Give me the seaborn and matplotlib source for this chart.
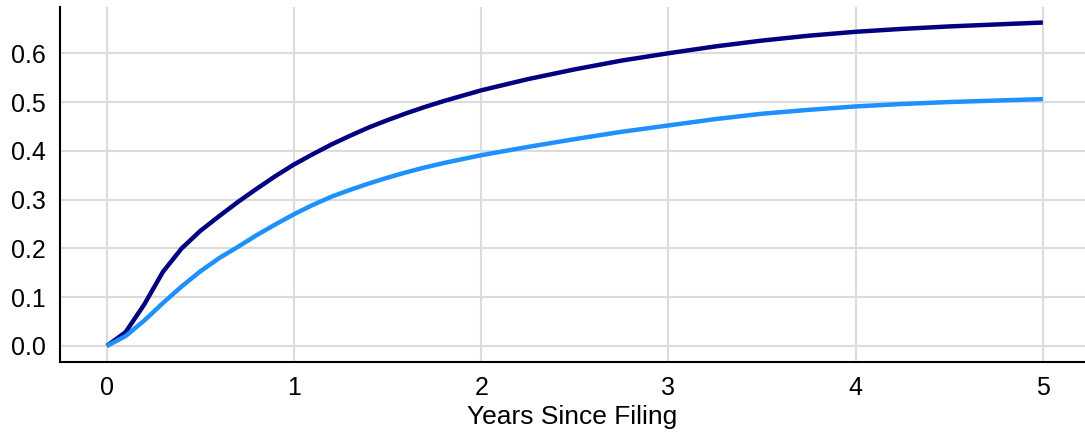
import pandas as pd
import numpy as np
import matplotlib.pyplot as plt
import seaborn as sns

# values
years = [0, 0.1, 0.2, 0.3, 0.4, 0.5, 0.6, 0.7, 0.8, 0.9, 1.0,
         1.1, 1.2, 1.3, 1.4, 1.5, 1.6, 1.7, 1.8, 1.9, 2.0,
         2.25, 2.5, 2.75, 3.0, 3.25, 3.5, 3.75, 4.0, 4.25, 4.5, 4.75, 5.0]
dark_series = [0, 0.028, 0.085, 0.152, 0.200, 0.236, 0.266, 0.295, 0.322, 0.348, 0.372,
               0.393, 0.413, 0.431, 0.448, 0.463, 0.477, 0.490, 0.502, 0.513, 0.524,
               0.547, 0.567, 0.585, 0.600, 0.614, 0.626, 0.636, 0.644, 0.650, 0.655, 0.659, 0.663]
light_series = [0, 0.020, 0.052, 0.088, 0.122, 0.153, 0.180, 0.203, 0.227, 0.249, 0.270,
                0.289, 0.306, 0.320, 0.333, 0.345, 0.356, 0.366, 0.375, 0.383, 0.391,
                0.408, 0.424, 0.439, 0.452, 0.465, 0.476, 0.484, 0.491, 0.496, 0.500, 0.503, 0.506]

df = pd.DataFrame({
    'years': years * 2,
    'value': dark_series + light_series,
    'group': ['dark'] * len(years) + ['light'] * len(years),
})

sns.set_style('whitegrid')
plt.rcParams['font.family'] = ['Liberation Sans', 'DejaVu Sans']

fig = plt.figure(figsize=(10.85, 4.32), dpi=100)
ax = fig.add_axes([0.0553, 0.162, 0.9447, 0.822])

sns.lineplot(data=df, x='years', y='value', hue='group',
             palette={'dark': '#000080', 'light': '#1e90ff'},
             linewidth=3.2, legend=False, ax=ax, solid_capstyle='butt')

ax.set_xlim(-0.25, 5.225)
ax.set_ylim(-0.033, 0.695)
ax.set_xticks([0, 1, 2, 3, 4, 5])
ax.set_yticks([0.0, 0.1, 0.2, 0.3, 0.4, 0.5, 0.6])
ax.set_yticklabels(['0.0', '0.1', '0.2', '0.3', '0.4', '0.5', '0.6'])
ax.grid(True, color='#dcdcdc', linewidth=1.5)
ax.tick_params(axis='both', direction='out', length=6, width=1.5,
               color='black', labelsize=18, labelcolor='black', pad=4)
ax.set_xlabel('Years Since Filing', fontsize=19, color='black', labelpad=4)
ax.set_ylabel('')

sns.despine(ax=ax, top=True, right=True)
for side in ['left', 'bottom']:
    ax.spines[side].set_color('black')
    ax.spines[side].set_linewidth(1.5)

plt.savefig('out.png', dpi=100)
